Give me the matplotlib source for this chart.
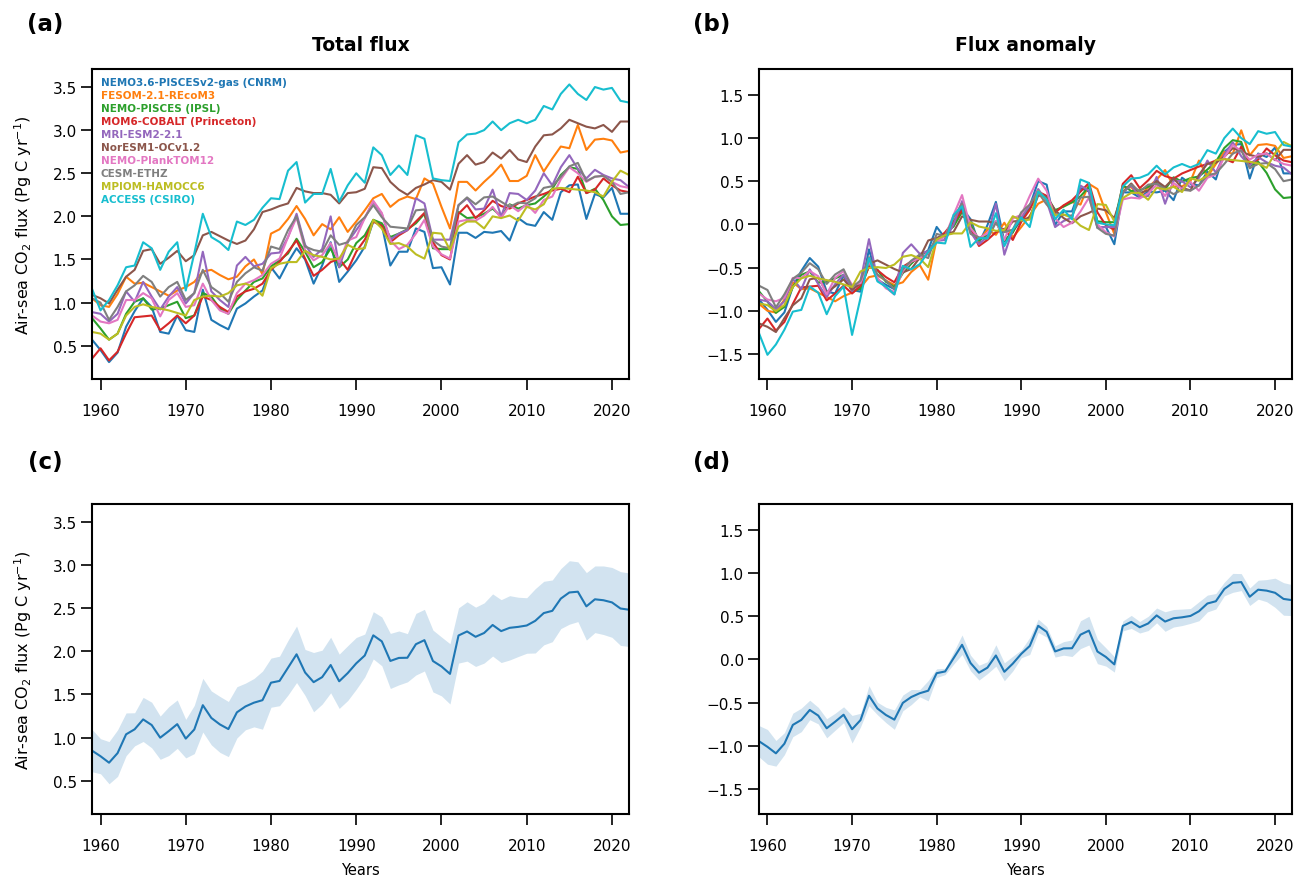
import numpy as np
import matplotlib
matplotlib.use("Agg")
import matplotlib.pyplot as plt

years = np.arange(1959, 2023)

models = ["NEMO3.6-PISCESv2-gas (CNRM)", "FESOM-2.1-REcoM3", "NEMO-PISCES (IPSL)",
          "MOM6-COBALT (Princeton)", "MRI-ESM2-2.1", "NorESM1-OCv1.2",
          "NEMO-PlankTOM12", "CESM-ETHZ", "MPIOM-HAMOCC6", "ACCESS (CSIRO)"]

cnrm = [0.57, 0.45, 0.31, 0.42, 0.72, 0.90, 1.05, 0.95, 0.66, 0.64,
        0.85, 0.68, 0.66, 1.15, 0.80, 0.74, 0.69, 0.93, 0.99, 1.07,
        1.14, 1.41, 1.28, 1.47, 1.63, 1.50, 1.22, 1.43, 1.70, 1.24,
        1.36, 1.49, 1.65, 1.94, 1.90, 1.43, 1.59, 1.59, 1.86, 1.82,
        1.40, 1.41, 1.21, 1.81, 1.81, 1.75, 1.82, 1.81, 1.83, 1.72,
        1.98, 1.91, 1.89, 2.05, 1.96, 2.28, 2.36, 2.37, 1.97, 2.26,
        2.22, 2.33, 2.03, 2.03]
fesom = [1.05, 0.97, 0.95, 1.10, 1.30, 1.22, 1.23, 1.18, 1.13, 1.08,
         1.14, 1.18, 1.24, 1.36, 1.38, 1.32, 1.27, 1.30, 1.42, 1.50,
         1.33, 1.80, 1.85, 1.97, 2.12, 1.97, 1.78, 1.91, 1.85, 1.99,
         1.82, 1.94, 2.07, 2.21, 2.26, 2.11, 2.19, 2.23, 2.20, 2.44,
         2.38, 2.11, 1.86, 2.40, 2.40, 2.30, 2.40, 2.49, 2.60, 2.41,
         2.41, 2.47, 2.71, 2.52, 2.67, 2.81, 2.79, 3.06, 2.77, 2.89,
         2.90, 2.88, 2.74, 2.76]
ipsl = [0.82, 0.70, 0.57, 0.64, 0.87, 1.01, 1.05, 0.92, 0.93, 0.97,
        1.01, 0.82, 0.85, 1.11, 1.07, 0.93, 0.87, 1.03, 1.14, 1.24,
        1.28, 1.42, 1.49, 1.57, 1.74, 1.59, 1.41, 1.47, 1.63, 1.41,
        1.50, 1.69, 1.78, 1.96, 1.92, 1.76, 1.80, 1.85, 1.92, 2.03,
        1.63, 1.62, 1.62, 2.05, 1.98, 1.99, 2.03, 2.09, 2.00, 2.14,
        2.09, 2.13, 2.15, 2.23, 2.32, 2.48, 2.57, 2.55, 2.27, 2.32,
        2.19, 2.00, 1.90, 1.91]
princeton = [0.35, 0.47, 0.33, 0.43, 0.64, 0.83, 0.84, 0.85, 0.68, 0.76,
             0.85, 0.76, 0.85, 1.07, 1.03, 0.95, 0.89, 1.07, 1.13, 1.16,
             1.22, 1.38, 1.47, 1.59, 1.72, 1.51, 1.31, 1.38, 1.47, 1.51,
             1.38, 1.59, 1.73, 1.94, 1.89, 1.70, 1.78, 1.84, 1.94, 2.04,
             1.70, 1.55, 1.50, 2.03, 2.13, 1.98, 2.07, 2.18, 2.12, 2.09,
             2.15, 2.19, 2.23, 2.26, 2.30, 2.32, 2.28, 2.46, 2.27, 2.31,
             2.44, 2.36, 2.30, 2.28]
mri = [0.89, 0.87, 0.78, 0.87, 1.13, 1.01, 1.24, 1.07, 0.92, 1.07,
       1.18, 0.99, 1.11, 1.59, 1.13, 1.03, 0.95, 1.43, 1.53, 1.42,
       1.45, 1.57, 1.58, 1.76, 2.03, 1.67, 1.53, 1.62, 2.00, 1.41,
       1.70, 1.84, 1.98, 2.17, 2.03, 1.73, 1.80, 1.84, 2.21, 2.15,
       1.73, 1.73, 1.73, 2.13, 2.21, 2.08, 2.09, 2.31, 2.00, 2.27,
       2.26, 2.19, 2.30, 2.50, 2.36, 2.57, 2.71, 2.55, 2.44, 2.54,
       2.48, 2.44, 2.42, 2.34]
noresm = [1.09, 1.05, 0.99, 1.15, 1.30, 1.38, 1.60, 1.62, 1.45, 1.52,
          1.60, 1.48, 1.55, 1.78, 1.82, 1.77, 1.72, 1.68, 1.72, 1.85,
          2.05, 2.08, 2.12, 2.15, 2.33, 2.29, 2.27, 2.27, 2.25, 2.15,
          2.27, 2.28, 2.32, 2.57, 2.56, 2.40, 2.31, 2.25, 2.33, 2.37,
          2.42, 2.40, 2.31, 2.61, 2.71, 2.60, 2.63, 2.74, 2.67, 2.77,
          2.66, 2.63, 2.81, 2.94, 2.95, 3.02, 3.12, 3.08, 3.04, 3.02,
          3.06, 2.98, 3.10, 3.10]
planktom = [0.85, 0.78, 0.76, 0.80, 1.03, 1.03, 1.11, 1.05, 0.84, 1.03,
            1.11, 0.95, 0.97, 1.22, 1.03, 0.91, 0.87, 1.11, 1.22, 1.26,
            1.32, 1.45, 1.51, 1.76, 1.99, 1.61, 1.49, 1.55, 1.69, 1.47,
            1.72, 1.76, 1.98, 2.18, 2.04, 1.72, 1.62, 1.67, 1.80, 1.96,
            1.65, 1.56, 1.51, 1.94, 1.96, 1.95, 2.01, 2.11, 1.98, 2.13,
            2.06, 2.14, 2.04, 2.19, 2.23, 2.43, 2.57, 2.50, 2.40, 2.46,
            2.47, 2.40, 2.35, 2.33]
cesm = [1.05, 1.00, 0.80, 0.95, 1.13, 1.20, 1.31, 1.24, 1.07, 1.18,
        1.24, 1.03, 1.11, 1.38, 1.18, 1.11, 1.01, 1.24, 1.34, 1.41,
        1.37, 1.65, 1.62, 1.84, 2.00, 1.65, 1.61, 1.59, 1.78, 1.67,
        1.70, 1.90, 1.99, 2.13, 1.99, 1.88, 1.87, 1.86, 2.07, 2.08,
        1.72, 1.65, 1.63, 2.13, 2.22, 2.14, 2.22, 2.23, 2.17, 2.11,
        2.16, 2.15, 2.21, 2.33, 2.35, 2.46, 2.58, 2.62, 2.41, 2.46,
        2.47, 2.40, 2.26, 2.28]
mpiom = [0.66, 0.64, 0.57, 0.64, 0.85, 0.95, 0.98, 0.95, 0.93, 0.91,
         0.88, 0.85, 1.03, 1.07, 1.08, 1.07, 1.11, 1.20, 1.22, 1.18,
         1.08, 1.40, 1.45, 1.47, 1.47, 1.60, 1.55, 1.53, 1.50, 1.51,
         1.67, 1.62, 1.63, 1.96, 1.86, 1.68, 1.69, 1.65, 1.56, 1.51,
         1.81, 1.80, 1.61, 1.88, 1.94, 1.94, 1.86, 2.00, 1.98, 2.01,
         1.95, 2.11, 2.08, 2.14, 2.32, 2.33, 2.32, 2.31, 2.30, 2.28,
         2.23, 2.40, 2.53, 2.48]
access = [1.16, 0.91, 1.03, 1.20, 1.41, 1.43, 1.70, 1.63, 1.38, 1.59,
          1.70, 1.14, 1.57, 2.03, 1.76, 1.70, 1.61, 1.94, 1.90, 1.96,
          2.10, 2.21, 2.20, 2.53, 2.63, 2.16, 2.26, 2.26, 2.55, 2.17,
          2.36, 2.50, 2.39, 2.80, 2.71, 2.48, 2.59, 2.48, 2.94, 2.90,
          2.44, 2.42, 2.41, 2.86, 2.95, 2.96, 3.00, 3.10, 3.00, 3.08,
          3.12, 3.08, 3.12, 3.28, 3.24, 3.42, 3.53, 3.42, 3.35, 3.50,
          3.47, 3.49, 3.34, 3.32]

series = [cnrm, fesom, ipsl, princeton, mri, noresm, planktom, cesm, mpiom, access]
colors = [f"C{i}" for i in range(10)]

data = np.array(series)
anom = data - data.mean(axis=1, keepdims=True)
mean_tot, std_tot = data.mean(axis=0), data.std(axis=0)
mean_anom, std_anom = anom.mean(axis=0), anom.std(axis=0)

W, H = 1299, 879
fig = plt.figure(figsize=(W / 100, H / 100), dpi=100)

def rect(l, r, t, b):
    return [l / W, 1 - b / H, (r - l) / W, (b - t) / H]

axa = fig.add_axes(rect(92, 629, 70, 380))
axb = fig.add_axes(rect(759, 1292, 70, 380))
axc = fig.add_axes(rect(92, 629, 505, 815))
axd = fig.add_axes(rect(759, 1292, 505, 815))

for vals, col in zip(series, colors):
    axa.plot(years, vals, color=col, lw=1.5)
for vals, col in zip(anom, colors):
    axb.plot(years, vals, color=col, lw=1.5)

axc.fill_between(years, mean_tot - std_tot, mean_tot + std_tot, color="C0", alpha=0.2, lw=0)
axc.plot(years, mean_tot, color="C0", lw=1.5)
axd.fill_between(years, mean_anom - std_anom, mean_anom + std_anom, color="C0", alpha=0.2, lw=0)
axd.plot(years, mean_anom, color="C0", lw=1.5)

for i, (name, col) in enumerate(zip(models, colors)):
    axa.text(0.016, 0.958 - i * 0.0418, name, color=col, fontsize=7.5,
             fontweight="bold", transform=axa.transAxes, va="center", ha="left")

for ax in (axa, axb, axc, axd):
    ax.set_xlim(1959, 2022)
    ax.set_xticks(np.arange(1960, 2021, 10))
    ax.tick_params(labelsize=11, width=1.2, length=8)
    ax.tick_params(axis="x", pad=9)
    ax.tick_params(axis="y", pad=3)
    for s in ax.spines.values():
        s.set_linewidth(1.5)

for ax in (axa, axc):
    ax.set_ylim(0.114, 3.709)
    ax.set_yticks(np.arange(0.5, 3.51, 0.5))
    ax.set_ylabel("Air-sea CO$_2$ flux (Pg C yr$^{-1}$)", fontsize=11.5)
    ax.yaxis.set_label_coords(-0.108, 0.5)
for ax in (axb, axd):
    ax.set_ylim(-1.79, 1.80)
    ax.set_yticks(np.arange(-1.5, 1.51, 0.5))
for ax in (axc, axd):
    ax.set_xlabel("Years", fontsize=10.5)
    ax.xaxis.set_label_coords(0.5, -0.155)

axa.set_title("Total flux", fontsize=13.5, fontweight="bold", pad=14)
axb.set_title("Flux anomaly", fontsize=13.5, fontweight="bold", pad=14)

for lbl, x, y in [("(a)", 45, 25), ("(b)", 712, 25), ("(c)", 45, 462), ("(d)", 712, 462)]:
    fig.text(x / W, 1 - y / H, lbl, fontsize=16.5, fontweight="bold", ha="center", va="center")

fig.savefig("out.png", dpi=100)
